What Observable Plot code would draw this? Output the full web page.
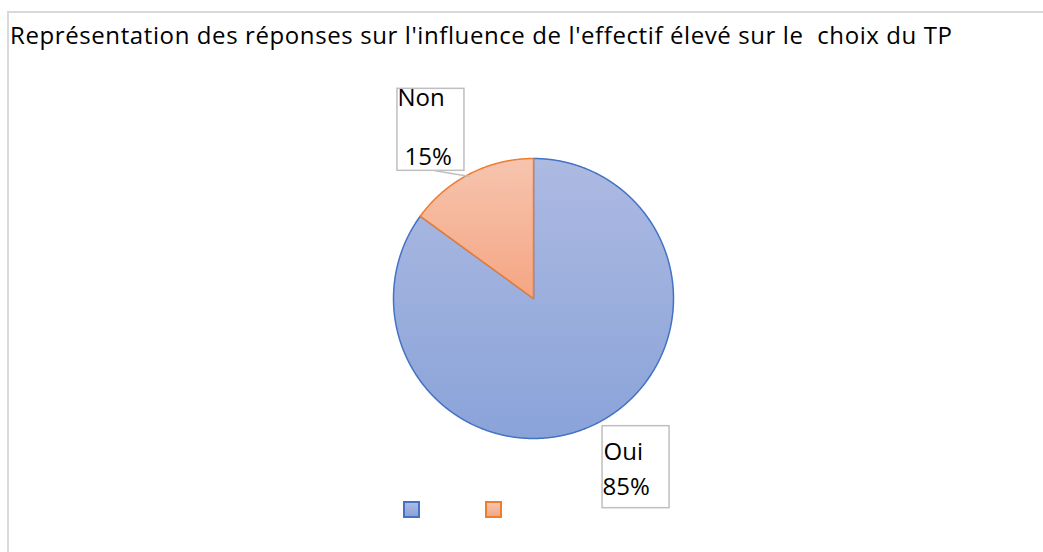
<!DOCTYPE html>
<html>
<head>
<meta charset="utf-8">
<script src="https://cdn.jsdelivr.net/npm/d3@7"></script>
<script src="https://cdn.jsdelivr.net/npm/@observablehq/plot@0.6"></script>
<style>
  html, body { margin: 0; padding: 0; background: #fff; }
  #wrap { position: relative; width: 1043px; height: 552px; overflow: hidden; font-family: "Open Sans", Lato, sans-serif; }
  #frame { position: absolute; left: 7px; top: 11px; width: 1100px; height: 600px; border: 2px solid #d9d9d9; box-sizing: border-box; }
  #title { position: absolute; left: 10px; top: 21px; font-size: 24px; line-height: 1.2; letter-spacing: 0.6px; color: #000; white-space: pre; }
  #chart { position: absolute; left: 0; top: 56px; }
  #legend { position: absolute; left: 403px; top: 501px; display: flex; gap: 65px; }
  .sw { width: 17px; height: 17px; box-sizing: border-box; border: 2px solid; }
</style>
</head>
<body>
<div id="wrap">
  <div id="frame"></div>
  <div id="title"></div>
  <div id="chart"></div>
  <div id="legend"></div>
</div>
<script>
// ---- data ----
const title = "Représentation des réponses sur l'influence de l'effectif élevé sur le  choix du TP";
const names = ["Oui", "Non"];
const values = [85, 15];

// ---- styles ----
const strokeColors = {Oui: "#4472c4", Non: "#ed7d31"};
const gradStops = {Oui: ["#adbae2", "#8aa3d9"], Non: ["#f7c4ae", "#f4a683"]};
const labelStyle = {
  Non: {nameDx: 0, nameDy: 0, pctDx: 7, pctDy: 59, leader: true},
  Oui: {nameDx: 1, nameDy: 17, pctDx: 0, pctDy: 52, leader: false}
};
const cx = 533, cy = 242, R = 140;          // pie layout in pixels
const labelR = 1.41, labelRot = -4.3 * Math.PI / 180;
const boxHW = 33.5 / R, boxHH = 41 / R;

document.getElementById("title").textContent = title;

const total = d3.sum(values);
const arcs = d3.pie().sort(null).value(d => d)(values);

const slices = arcs.map((a, i) => {
  const name = names[i];
  const pts = [{x: 0, y: 0, name}];
  const step = Math.PI / 720;
  for (let t = a.startAngle; t < a.endAngle; t += step) pts.push({x: Math.sin(t), y: Math.cos(t), name});
  pts.push({x: Math.sin(a.endAngle), y: Math.cos(a.endAngle), name});
  const midRaw = (a.startAngle + a.endAngle) / 2;
  const mid = midRaw + labelRot;
  const bx = labelR * Math.sin(mid), by = labelR * Math.cos(mid);
  return {
    name, value: values[i], pct: d3.format(".0%")(values[i] / total), pts,
    bx, by, x1: bx - boxHW, x2: bx + boxHW, y1: by - boxHH, y2: by + boxHH,
    ex: Math.sin(midRaw), ey: Math.cos(midRaw) - 0.02
  };
});

const defsMark = () => {
  const defs = d3.create("svg:defs");
  for (const n of names) {
    const g = defs.append("linearGradient").attr("id", "g" + n)
      .attr("x1", 0).attr("y1", 0).attr("x2", 0).attr("y2", 1);
    g.append("stop").attr("offset", "0%").attr("stop-color", gradStops[n][0]);
    g.append("stop").attr("offset", "100%").attr("stop-color", gradStops[n][1]);
  }
  return defs.node();
};

const marks = [defsMark];
for (const s of slices) {
  marks.push(Plot.line(s.pts, {
    x: "x", y: "y", curve: "linear-closed",
    fill: `url(#g${s.name})`, stroke: strokeColors[s.name], strokeWidth: 1.5, strokeLinejoin: "round"
  }));
}
for (const s of slices) {
  const st = labelStyle[s.name];
  if (st.leader) {
    marks.push(Plot.link([s], {
      x1: d => d.bx + 0.03, y1: "y1", x2: "ex", y2: "ey",
      stroke: "#bfbfbf", strokeWidth: 1.5
    }));
  }
  marks.push(Plot.rect([s], {
    x1: "x1", x2: "x2", y1: "y1", y2: "y2",
    fill: "white", stroke: "#bfbfbf", strokeWidth: 1.5
  }));
  marks.push(Plot.text([s], {
    x: "x1", y: "y2", text: "name", textAnchor: "start", lineAnchor: "top",
    dx: st.nameDx, dy: st.nameDy, fontSize: 24, fill: "black"
  }));
  marks.push(Plot.text([s], {
    x: "x1", y: "y2", text: "pct", textAnchor: "start", lineAnchor: "top",
    dx: st.pctDx, dy: st.pctDy, fontSize: 24, fill: "black"
  }));
}

const chart = Plot.plot({
  width: 1043, height: 456, margin: 0,
  style: {fontFamily: "'Open Sans', Lato, sans-serif", background: "transparent", overflow: "visible"},
  x: {domain: [-1, 1], range: [cx - R, cx + R], axis: null},
  y: {domain: [-1, 1], range: [cy + R, cy - R], axis: null},
  marks
});
document.getElementById("chart").appendChild(chart);

const legend = document.getElementById("legend");
for (const n of names) {
  const d = document.createElement("div");
  d.className = "sw";
  d.style.borderColor = strokeColors[n];
  d.style.background = `linear-gradient(${gradStops[n][0]}, ${gradStops[n][1]})`;
  legend.appendChild(d);
}
</script>
</body>
</html>
